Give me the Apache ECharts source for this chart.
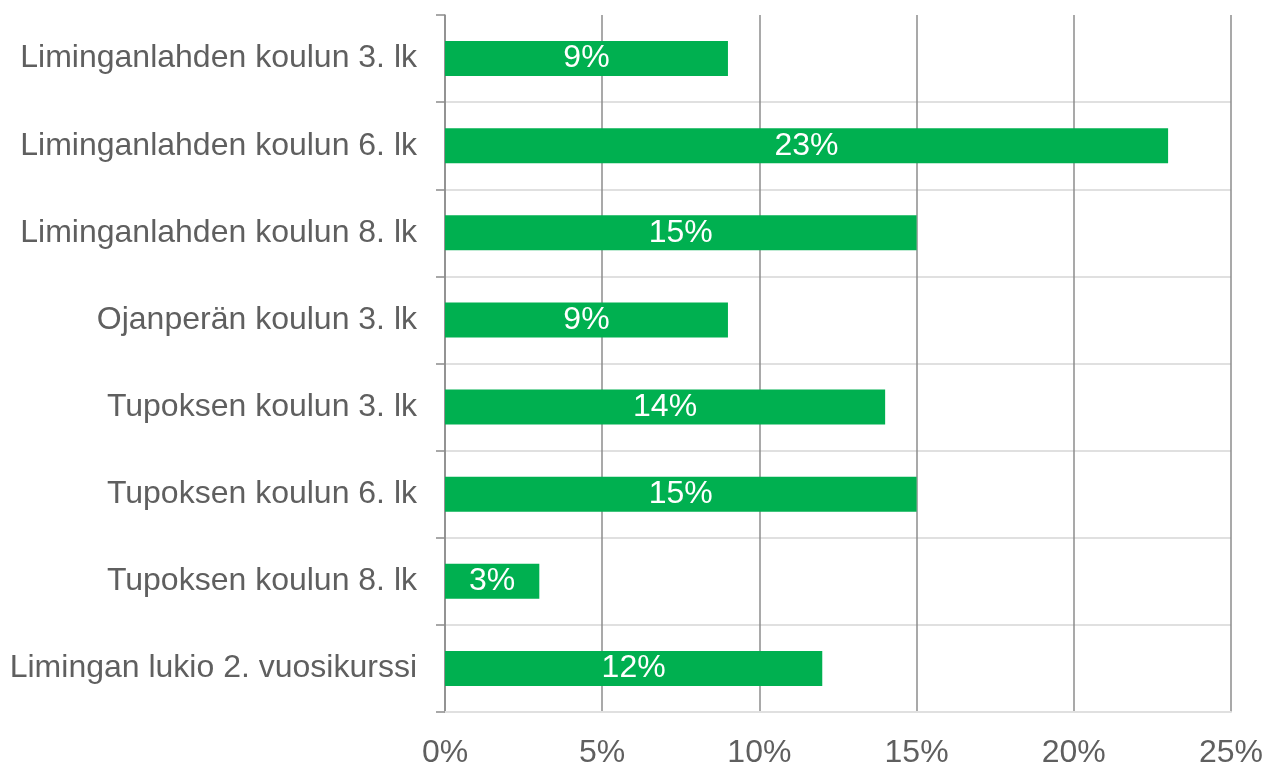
<!DOCTYPE html>
<html>
<head>
<meta charset="utf-8">
<script src="https://cdn.jsdelivr.net/npm/echarts@6/dist/echarts.min.js"></script>
<style>
  html, body { margin: 0; padding: 0; background: #fff; }
  #chart { width: 1266px; height: 769px; }
</style>
</head>
<body>
<div id="chart"></div>
<script>
// luokat ylhäältä alas
const categories = [
  'Liminganlahden koulun 3. lk',
  'Liminganlahden koulun 6. lk',
  'Liminganlahden koulun 8. lk',
  'Ojanperän koulun 3. lk',
  'Tupoksen koulun 3. lk',
  'Tupoksen koulun 6. lk',
  'Tupoksen koulun 8. lk',
  'Limingan lukio 2. vuosikurssi'
];
const values = [9, 23, 15, 9, 14, 15, 3, 12];

const chart = echarts.init(document.getElementById('chart'));

chart.setOption({
  animation: false,
  textStyle: { fontFamily: 'Liberation Sans, Arial, sans-serif' },
  grid: {
    left: 445,
    right: 34,
    top: 15,
    bottom: 56
  },
  xAxis: {
    type: 'value',
    min: 0,
    max: 25,
    interval: 5,
    axisLine: { show: true, lineStyle: { color: '#e0e0e0', width: 2 } },
    axisTick: { show: false },
    axisLabel: {
      formatter: '{value}%',
      color: '#5f5f5f',
      fontSize: 32,
      margin: 25
    },
    splitLine: { show: true, lineStyle: { color: '#8c8c8c', width: 1.5 } }
  },
  yAxis: {
    type: 'category',
    inverse: true,
    data: categories,
    axisLine: { show: true, lineStyle: { color: '#8c8c8c', width: 1.5 } },
    axisTick: { show: true, length: 9, lineStyle: { color: '#8c8c8c', width: 1.5 } },
    axisLabel: {
      color: '#5f5f5f',
      fontSize: 32,
      margin: 28,
      padding: [3, 0, 0, 0]
    },
    splitLine: {
      show: true,
      interval: function (idx) { return idx !== 0; },
      lineStyle: { color: '#e0e0e0', width: 2 }
    }
  },
  series: [{
    type: 'bar',
    data: values,
    barWidth: 35,
    itemStyle: { color: '#00b050' },
    label: {
      show: true,
      position: 'inside',
      formatter: '{c}%',
      color: '#ffffff',
      fontSize: 32,
      padding: [6, 0, 0, 0]
    }
  }]
});
</script>
</body>
</html>
